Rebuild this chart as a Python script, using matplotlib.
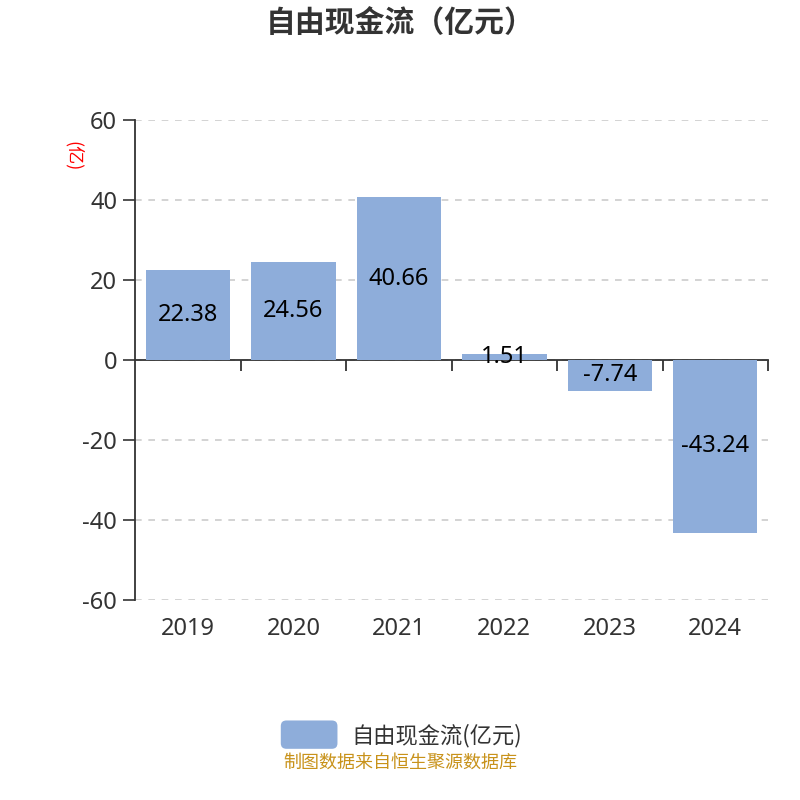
import matplotlib
matplotlib.use("Agg")
import matplotlib.pyplot as plt
from matplotlib.patches import FancyBboxPatch
from matplotlib.legend_handler import HandlerPatch

plt.rcParams['font.family'] = ['Noto Sans', 'Noto Sans CJK SC', 'DejaVu Sans']
cjk = ['Noto Sans CJK SC', 'DejaVu Sans']

years = ['2019', '2020', '2021', '2022', '2023', '2024']
values = [22.38, 24.56, 40.66, 1.51, -7.74, -43.24]
yticks = [-60, -40, -20, 0, 20, 40, 60]
title = '自由现金流（亿元）'
series_name = '自由现金流(亿元)'
unit_label = '(亿)'
source = '制图数据来自恒生聚源数据库'

bar_color = '#8EADDA'
text_color = '#333333'

fig = plt.figure(figsize=(8, 8), dpi=100)
ax = fig.add_axes([0.169, 0.25, 0.791, 0.60])

x = list(range(len(years)))
bars = ax.bar(x, values, width=0.8, color=bar_color, zorder=2, label=series_name)
for b, v in zip(bars, values):
    ax.text(b.get_x() + b.get_width() / 2, v / 2, f'{v:.2f}', ha='center', va='center',
            fontsize=17, color='black', zorder=3)

ax.set_xlim(-0.5, len(years) - 0.5)
ax.set_ylim(-60, 60)
ax.set_yticks(yticks)
ax.set_yticklabels([str(t) for t in yticks], fontsize=17, color=text_color)
ax.tick_params(axis='y', length=9, width=1.2, color=text_color, pad=4)
ax.grid(axis='y', linestyle=(0, (4, 4)), color='#cccccc', linewidth=1.2)

for s in ['top', 'right']:
    ax.spines[s].set_visible(False)
ax.spines['left'].set_color(text_color)
ax.spines['left'].set_linewidth(1.3)
ax.spines['bottom'].set_position(('data', 0))
ax.spines['bottom'].set_color(text_color)
ax.spines['bottom'].set_linewidth(1.3)
ax.spines['bottom'].set_zorder(1.8)
ax.set_xticks([i + 0.5 for i in range(len(years) - 1)] + [len(years) - 0.5])
ax.set_xticklabels([])
ax.tick_params(axis='x', length=8, width=1.3, color=text_color, direction='out')

sec = ax.secondary_xaxis(0)
sec.set_xticks(x)
sec.set_xticklabels(years, fontsize=17, color=text_color)
sec.tick_params(length=0, pad=12)
sec.spines['bottom'].set_visible(False)

ax.text(-0.098, 0.925, unit_label, transform=ax.transAxes, rotation=270, color='red',
        fontsize=13, ha='center', va='center', family=cjk)

fig.text(0.5, 0.971, title, ha='center', va='center', fontsize=21.5, fontweight='bold',
         color=text_color, family=cjk)


class RoundHandler(HandlerPatch):
    def create_artists(self, legend, orig_handle, xdescent, ydescent, width, height,
                       fontsize, trans):
        p = FancyBboxPatch((-xdescent + 2, -ydescent - 2), width - 4, height + 4,
                           boxstyle='round,pad=0,rounding_size=4',
                           facecolor=bar_color, edgecolor='none', transform=trans)
        return [p]


leg = fig.legend(handles=[bars.patches[0]], labels=[series_name], loc='center',
                 bbox_to_anchor=(0.5, 0.081), frameon=False,
                 handlelength=2.8, handleheight=1.2, handletextpad=0.5,
                 prop={'family': cjk, 'size': 16},
                 handler_map={type(bars.patches[0]): RoundHandler()})
for t in leg.get_texts():
    t.set_color(text_color)

fig.text(0.5, 0.047, source, ha='center', va='center', fontsize=13, color='#C8921A',
         family=cjk)

fig.savefig('out.png', dpi=100)
